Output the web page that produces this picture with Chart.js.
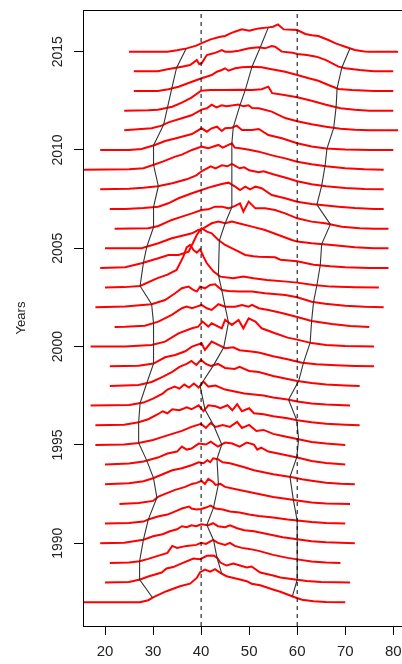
<!DOCTYPE html>
<html>
<head>
<meta charset="utf-8">
<script src="https://cdn.jsdelivr.net/npm/chart.js@4.4.1/dist/chart.umd.min.js"></script>
<style>
html,body{margin:0;padding:0;background:#fff;overflow:hidden;}
#wrap{width:420px;height:664px;}
</style>
</head>
<body>
<div id="wrap"><canvas id="c" width="420" height="664"></canvas></div>
<script>
// ---- data: age profile (age, density index) for each year ----
const years = [1987,1988,1989,1990,1991,1992,1993,1994,1995,1996,1997,1998,1999,2000,2001,2002,2003,2004,2005,2006,2007,2008,2009,2010,2011,2012,2013,2014,2015];

const d1987 = [[15,0],[27.3,0],[29,2],[30.1,5],[32.8,11],[35.6,16],[37.7,18.5],[39.1,24.3],[39.8,30],[40.8,32.7],[41.9,30.5],[42.9,33],[44,29.3],[45.3,26],[47,24],[48.1,22.7],[49.5,21],[50.5,18.5],[52.3,17],[55.1,12.5],[56.5,10.5],[59.2,5.5],[61,2.5],[63.4,1],[66,0.3],[70,0]];
const d1988 = [[20,0],[25,0.5],[27.3,3],[29,6],[31.8,10],[32.8,14],[34.2,15.5],[35.6,18.5],[38.4,24],[39.8,23.3],[41.2,26.7],[42.6,27],[43.3,25],[44,20],[45.3,17],[46.7,19],[48.1,17],[49.5,15],[50.5,16],[52.3,10],[55,7],[56.5,5],[59.2,3.3],[62,1.5],[65,0.5],[71,0]];
const d1989 = [[21,0],[25,0.5],[27.2,1.7],[29,4],[31,7],[33,10],[34,17],[35,15],[37,17],[39,18],[40,20],[41,19],[42.5,23],[43.5,20],[45,18],[46,20],[47,17],[48.5,15],[50,14],[52,12],[55,8],[58,5],[60,3.5],[63,1.5],[66,0.5],[69,0]];
const d1990 = [[19,0],[24,0.5],[28,3.5],[30,7],[32,9],[33.5,12],[35,14],[36,17],[37,16],[38,18],[39,17],[40,19],[41.5,18],[42.5,20],[43.5,17],[45,16],[46,18],[47.5,15],[49,13],[51,12],[53,10],[55,8],[57,6],[60,4],[63,2],[66,1],[72,0]];
const d1991 = [[20,0],[25,0.5],[28,2],[29,4],[31,7],[33,9],[34,11],[35,13],[36,15],[37.5,17],[38,15],[39,14],[40,14.5],[41,16],[42,18],[43,15],[44.5,14],[46,12],[48,11],[50,9],[52,7.5],[55,6],[58,4],[60,3],[63,1.5],[66,0.5],[70,0]];
const d1992 = [[23,0],[27,1],[30,3],[31,7],[32.5,10],[34.6,14],[36.7,17],[38.1,20],[39.1,21],[40.1,23],[40.8,20],[41.5,25],[42.5,22],[43,19],[44,20],[45,17],[47,15],[49,13],[51,11],[53,9],[55,7],[58,5],[60,3.5],[63,1.5],[66,0.5],[71,0]];
const d1993 = [[20,0],[25,1],[28,3],[30,6],[32,10],[34,14],[36,16],[38,19],[39.5,22],[40.5,21],[41.3,24],[41.9,22],[42.5,26],[43.5,25],[44.5,22],[46,21],[47.5,19],[49,17],[51,14],[53,12],[55,10],[57,8.5],[59,7],[61,5],[63,3.5],[66,1.5],[69,0.5],[72,0]];
const d1994 = [[20,0],[25,1],[28,3],[31,7],[33,11],[35,13],[36,18],[37,15],[38,16],[39.5,21],[41,20],[42,23],[43.5,18],[45,22],[46.5,21],[48,18],[49.5,22],[51,20],[51.7,15],[52.5,17],[54,13],[56,11],[58,9],[60,7],[63,3.5],[66,1.5],[70,0]];
const d1995 = [[18,0],[24,0.5],[27,2],[30,5],[32,8],[34,11],[36,14],[38,18],[40,21],[41,17],[42,22],[43,18],[44.5,20],[46,18],[47.5,23],[48.5,17],[50,20],[51.5,14],[53,15],[55,11],[57,9],[60,6],[63,3],[66,1.5],[70,0]];
const d1996 = [[18,0],[24,0.5],[27,3],[29,6],[31,11],[32,14],[33,12],[34,16],[35.5,15],[37,18],[38,16],[39.5,20],[40.5,14],[41.5,20],[43,19],[44,17],[45.5,20],[46.5,15],[47.5,21],[48.5,14],[50,17],[51,12],[53,11],[55,9],[58,7],[60,5],[63,3],[66,1.5],[70,0.5],[73,0]];
const d1997 = [[17,0],[25,0.5],[28,3],[30,7],[32,12],[33,16],[34.5,19],[35.5,17],[36.5,21],[37.5,18],[38.5,22],[39.5,18],[40.5,24],[41.5,19],[43,20],[45,16],[47,14],[49,12],[51,11],[53,10],[55,8],[58,6],[60,4],[63,2],[66,1],[71,0]];
const d1998 = [[21,0],[27,1],[29.7,4],[32,9],[34,14],[35.5,19],[37,22],[38,25],[39,21],[40,26],[41,22],[42,20],[43.5,22],[45,18],[47,17],[48,19],[50,15],[52,14],[55,10],[58,7],[60,5],[63,3],[66,1.5],[70,0.5],[73,0]];
const d1999 = [[21,0],[27,0.5],[30.1,2.7],[32.5,9],[34.6,11.3],[36.7,15],[38.1,19.7],[40.1,23],[40.8,16.3],[42.2,24.7],[43.6,21.3],[45,18],[46.7,19],[48,16],[50,15],[52,13.7],[55,10],[58,7],[61,3.5],[64,2],[68,1],[72,0.3],[76,0]];
const d2000 = [[17,0],[24.2,0],[29.7,1.7],[32.5,5],[35.3,13.3],[38.1,18.3],[39.4,20],[40.3,25],[41.5,20],[42.2,23.3],[44.3,18.3],[45,26.7],[46.4,21.7],[47.8,26.7],[48.8,18.3],[49.9,28.3],[51.3,25],[52.6,18.3],[55.4,13.3],[58,9],[60,7],[63,3.5],[66,1.5],[70,0.5],[76,0]];
const d2001 = [[22,0],[24.2,0.3],[28.3,1.3],[31.1,5.3],[33.9,12],[36,18.7],[37,20.3],[38.1,18.7],[39.1,20.3],[40.1,22],[41.2,18.7],[42.2,17],[43.6,22.7],[45,20.3],[47.1,20.3],[48.5,22],[49.9,20.3],[50.6,22],[52,18.7],[54,17],[56.8,14],[60,10],[63,6],[67.2,3],[71,1],[75,0]];
const d2002 = [[18,0],[24.2,0.7],[29.7,3],[32.5,7.3],[34.6,14],[36,19],[37.4,20.7],[38.4,17.3],[39.1,15.7],[39.8,20.7],[40.8,19],[41.9,22.3],[42.9,23],[44.3,17.3],[45.7,16.3],[47.8,15.7],[50.6,15.7],[53.3,14],[57.5,12.3],[60,10],[63,5.5],[65.8,3.5],[70,1.5],[74,0.5],[78,0]];
const d2003 = [[20,0],[24,0.5],[27.3,1.7],[30.8,9.3],[33,13],[34.9,17.7],[36.3,31],[37,40.3],[37.7,42.7],[38.4,37.7],[39.1,35],[39.8,38.3],[40.5,31],[41.2,24.3],[42.6,16],[44,11],[46.7,9.3],[48.8,11],[50.9,9.3],[53.7,7.7],[57.8,6],[60,5],[63.4,2.7],[67,1],[72,0.3],[77,0]];
const d2004 = [[19,0],[24.2,0.7],[27.6,4.7],[31.1,9.7],[33.2,13],[35.3,13],[37.4,16.3],[38.3,25],[39.1,33],[40.1,39.7],[41.2,36.3],[42.2,34.7],[43.6,28],[45,23],[47.1,18],[49.2,13],[50.9,11.7],[52,11.3],[55.4,10.7],[56.5,8.3],[60,6.7],[63.4,3.3],[66.9,1.7],[70,0.8],[75,0],[79,0]];
const d2005 = [[20,0],[27.6,0],[31.1,5],[33.9,10],[36.7,13.3],[38.1,15],[39.4,18.3],[40.1,19],[42.2,25],[43.6,26.7],[45,25],[46.4,26.7],[47.8,25],[50.6,21.7],[53.3,18.3],[56.1,13.3],[58.9,8.3],[60,6.7],[63,5],[67.2,3.3],[72,1],[76,0],[79,0]];
const d2006 = [[22,0],[29,0.3],[31.1,2.7],[33.9,8.7],[36,12],[38.1,15.3],[40.1,18.7],[41.5,19.3],[42.9,22],[44.3,22],[45.7,20.3],[47.1,22.7],[48.1,25.3],[48.8,17],[49.9,27],[51.3,20.3],[53.3,20.3],[55.4,18.7],[57.5,15.3],[60,10.3],[63,7],[65.8,5.3],[69.3,2],[73,0.5],[76,0],[79,0]];
const d2007 = [[21,0],[24.2,0],[28,1],[31.1,2.3],[33.2,5.7],[35.3,10.7],[38.1,15.7],[40.1,19],[42.2,22.3],[44.3,25],[45.7,26.3],[47.1,22.3],[48.1,19],[49.2,22.3],[50.2,19.7],[51.3,22.3],[52.6,20.7],[54.7,14],[57.5,10.7],[60,7.3],[63,5],[66,3.5],[68.6,2.3],[72,1],[76,0],[78,0]];
const d2008 = [[19,0],[25,0.5],[28,1.5],[31,3],[34,6],[37,10],[39,14],[40.1,18],[42,23],[43,21],[44.3,24],[45.5,23],[46.4,25.5],[48,21],[49,22],[50,19],[52,17],[53,18],[55,15],[58,11],[60,8],[63,5],[66,3],[70,1.2],[74,0.3],[78,0]];
const d2009 = [[15,0],[25,0.5],[28,1.5],[30,4.7],[32,8],[34.6,13],[36,15],[38.1,19.7],[40.1,23],[41.5,21.5],[43.6,24.7],[44.5,22],[46.4,26.3],[47,22],[48.1,21.3],[50,20],[52,18],[55,14],[57.5,11.3],[60,8],[63,5.5],[66,3.5],[70,1.5],[74,0.5],[78,0]];
const d2010 = [[19,0],[25,0],[27.6,1],[30.4,5],[32.5,9],[34.6,11.5],[38.1,16],[40.1,21.7],[41.2,18.3],[42.2,21.7],[43.3,23.3],[44.3,19],[45,21.7],[46.4,22.3],[47.4,24.3],[48.5,20],[50.6,20],[52,21],[54,15],[56.8,11.7],[60,6.7],[63,3.5],[66,1.5],[70,0.5],[75,0],[80,0]];
const d2011 = [[24,0],[29.7,2],[31.8,4.7],[33.2,8],[36,12],[38,15],[40.1,20.7],[41.2,22],[42.2,25.7],[43.2,23],[44.3,25],[45.3,24],[47.8,25.7],[48.8,24],[49.9,25],[50.6,22.3],[52,22],[54.7,18.7],[57.5,12.3],[60,9],[63,6],[66,3.5],[69,1.5],[72,0.5],[75,0],[81,0]];
const d2012 = [[24,0],[29,0.5],[31,1],[34,4],[36,8],[38,13],[40,20],[42,20.7],[45,20.7],[48,21],[50.6,20.7],[52.6,21.5],[54,24],[54.8,17.5],[57,16],[60,13.5],[63,10],[66,6],[69,2.5],[72,1],[75,0],[80,0]];
const d2013 = [[26,0],[31,0],[33.2,1.7],[35.3,4.3],[38.1,9.3],[40.1,12.7],[42.2,16],[43.3,19.3],[44.3,21],[45,22.7],[45.7,20.3],[47.1,22.7],[48.5,23.7],[50.6,24.3],[52.6,23.7],[54.7,21.7],[57.5,19.3],[60,16],[62.4,12.7],[64.4,10.3],[66.5,6],[68.6,2],[71.4,1],[76,0],[80,0]];
const d2014 = [[26,0],[31,0],[33,2],[36,4.7],[37.7,6.3],[38.4,8.7],[39.1,11.3],[39.6,7.3],[40.1,8],[41.2,16.3],[42.6,18],[43.6,19.7],[44.3,21.3],[45,19.7],[46.4,19.7],[47.8,20.7],[50,23],[52,24],[53.3,23],[54.7,25.3],[55.4,24.7],[56.8,19.7],[59,18.7],[60,17.3],[62,16.3],[64,14.7],[66,11.3],[68.6,4.7],[70,3],[73,1.3],[76,0],[80,0]];
const d2015 = [[25,0],[33,0],[35,1.5],[37,3.3],[39,6],[40,8.3],[42,12.3],[44,15],[45,15.7],[46,18],[47,20],[48.5,22.3],[50,21],[50.6,21.7],[52,23.3],[54,24.3],[55,25],[56,27.3],[57.2,22.3],[59,22],[60,21.7],[61.7,17.7],[63,16.5],[64.4,15.7],[66.5,11.7],[68,8.3],[70,5],[72,1.7],[74,0.3],[75,0],[81,0]];

// quantile ages per year (10%, 50%, 90%), same order as years
const q10Ages = [29.9,27.2,27.2,28,29,30.8,30.1,28.7,27,27,27.3,28.7,30.1,30.1,30.1,29.7,27.3,28,28.7,30.1,30.1,31.1,30.1,30.1,32.2,33,33.9,34.9,36.9];
const q50Ages = [44.3,43.3,42.6,41.2,42.6,43.6,43.3,44.3,42.6,40.8,39.8,42.6,44.7,45.7,45,44.3,43.6,43.8,45,46.4,46.4,46.4,46.4,46.7,48.1,49.2,50.6,52.3,54];
const q90Ages = [59,60,60,60,60,59.2,58.5,59.9,60.3,59.9,58.2,60.3,61.3,62.7,63,63.4,64.1,64.8,65.1,66.9,64.1,65.1,65.8,66.2,67.6,68.1,68.3,69.3,71];

const xTicks = [20,30,40,50,60,70,80];
const yTicks = [1990,1995,2000,2005,2010,2015];
const refAges = [40,60];

// ---- build ----
const profiles = [d1987,d1988,d1989,d1990,d1991,d1992,d1993,d1994,d1995,d1996,d1997,d1998,d1999,d2000,d2001,d2002,d2003,d2004,d2005,d2006,d2007,d2008,d2009,d2010,d2011,d2012,d2013,d2014,d2015];
const DENS_TO_YEARS = 1/19.66;
const X_MIN = 15.42, X_MAX = 83.48, Y_MIN = 1985.79, Y_MAX = 2017.12;

function levelAt(prof, year, age){
  for (let i=0;i<prof.length-1;i++){
    const [a0,h0]=prof[i],[a1,h1]=prof[i+1];
    if (age>=a0 && age<=a1){ const t=(age-a0)/(a1-a0); return year + (h0+(h1-h0)*t)*DENS_TO_YEARS; }
  }
  return year;
}

const datasets = [];
years.forEach((yr,i)=>{
  datasets.push({
    data: profiles[i].map(([a,h])=>({x:a, y: yr + h*DENS_TO_YEARS})),
    borderColor:'#ff0000', borderWidth:2, showLine:true, pointRadius:0, tension:0, clip:0, order:3
  });
});
[q10Ages,q50Ages,q90Ages].forEach(arr=>{
  datasets.push({
    data: arr.map((a,i)=>({x:a, y: levelAt(profiles[i], years[i], a)})),
    borderColor:'#333333', borderWidth:1.1, showLine:true, pointRadius:0, tension:0, clip:0, order:2
  });
});
refAges.forEach(a=>{
  datasets.push({
    data:[{x:a,y:Y_MIN},{x:a,y:Y_MAX}],
    borderColor:'#000000', borderWidth:1, borderDash:[4,4], showLine:true, pointRadius:0, clip:0, order:1
  });
});

const framePlugin = {
  id:'frame',
  afterDraw(chart){
    const {ctx, chartArea:ca, scales} = chart;
    ctx.save();
    ctx.strokeStyle='#000'; ctx.lineWidth=1;
    ctx.strokeRect(Math.round(ca.left)+0.5, Math.round(ca.top)+0.5, Math.round(ca.right-ca.left), Math.round(ca.bottom-ca.top));
    ctx.fillStyle='#222';
    ctx.font='14px "Liberation Sans", Arial, sans-serif';
    ctx.textAlign='center'; ctx.textBaseline='middle';
    yTicks.forEach(v=>{
      const y = scales.y.getPixelForValue(v);
      ctx.save(); ctx.translate(58, y); ctx.rotate(-Math.PI/2); ctx.fillText(String(v),0,0); ctx.restore();
    });
    ctx.font='13px "Liberation Sans", Arial, sans-serif';
    ctx.save(); ctx.translate(21, (ca.top+ca.bottom)/2); ctx.rotate(-Math.PI/2); ctx.fillText('Years',0,0); ctx.restore();
    ctx.restore();
  }
};

new Chart(document.getElementById('c'), {
  type:'scatter',
  data:{datasets},
  options:{
    responsive:false, animation:false, devicePixelRatio:1,
    layout:{padding:{top:10,right:10,left:0,bottom:0}},
    plugins:{legend:{display:false}, tooltip:{enabled:false}},
    scales:{
      x:{type:'linear', min:X_MIN, max:X_MAX,
         afterBuildTicks:s=>{s.ticks = xTicks.map(v=>({value:v}));},
         afterFit:s=>{s.height=38;},
         grid:{display:true, drawOnChartArea:false, drawTicks:true, tickLength:9, color:'#000', lineWidth:1},
         border:{display:true, color:'#000', width:1},
         ticks:{padding:8, color:'#222', font:{family:'"Liberation Sans", Arial, sans-serif', size:15}, maxRotation:0, autoSkip:false}},
      y:{type:'linear', min:Y_MIN, max:Y_MAX,
         afterBuildTicks:s=>{s.ticks = yTicks.map(v=>({value:v}));},
         afterFit:s=>{s.width=83;},
         grid:{display:true, drawOnChartArea:false, drawTicks:true, tickLength:9, color:'#000', lineWidth:1},
         border:{display:true, color:'#000', width:1},
         ticks:{display:false}}
    }
  },
  plugins:[framePlugin]
});
</script>
</body>
</html>
